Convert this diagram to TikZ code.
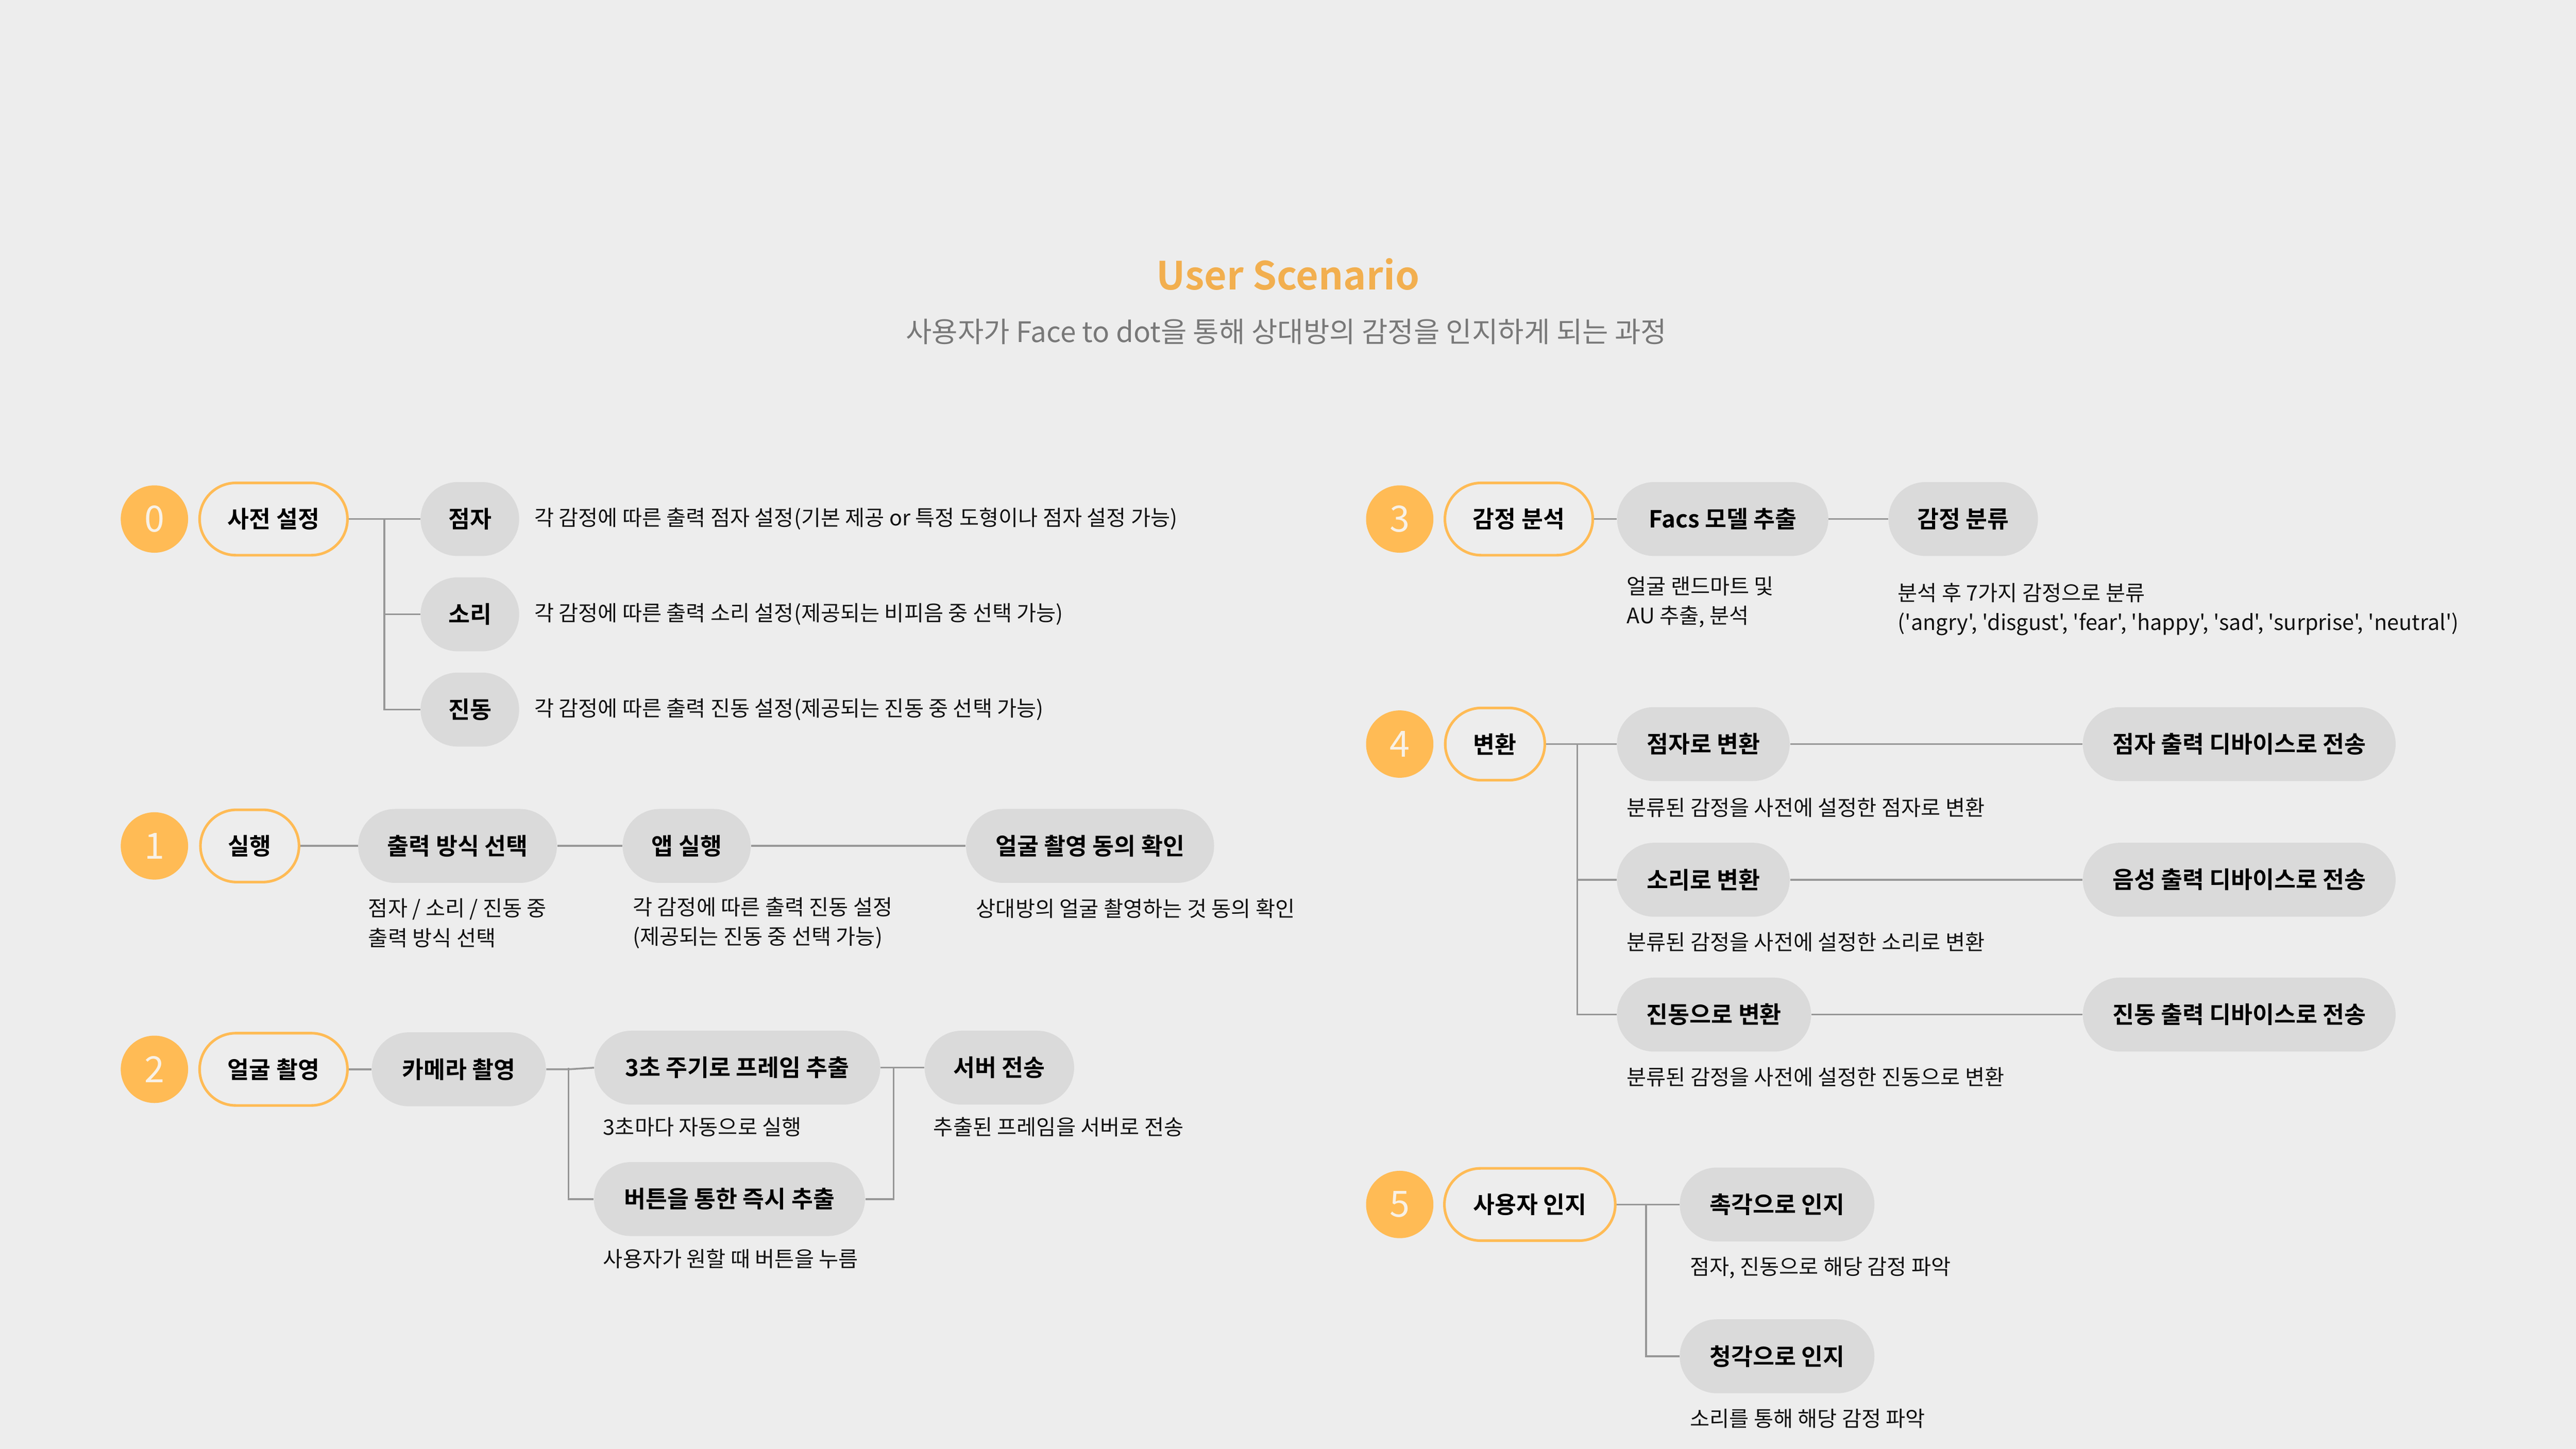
\documentclass[tikz,border=0pt]{standalone}
\usepackage{fontspec}
\setmainfont{Noto Sans CJK KR}[BoldFont={Noto Sans CJK KR Bold}]
\newfontfamily\qfont{Noto Sans CJK KR}
\usetikzlibrary{shapes.misc}
\definecolor{bg}{HTML}{EDEDED}
\definecolor{pillgray}{HTML}{DADADA}
\definecolor{orng}{HTML}{FFBB55}
\definecolor{titleor}{HTML}{F2AF4F}
\definecolor{lgray}{HTML}{979797}
\definecolor{subgray}{HTML}{787878}
\definecolor{numcol}{HTML}{F8F1E6}
\definecolor{txt}{HTML}{111111}
\tikzset{
  stepnum/.style={circle, fill=orng, minimum size=41pt, inner sep=0pt, text=numcol, font=\fontsize{22}{22}\selectfont},
  stagebox/.style={rounded rectangle, draw=orng, line width=1.6pt, fill=bg, minimum height=44pt, inner sep=0pt, text=black, font=\fontsize{14.3}{16}\selectfont\bfseries},
  itembox/.style={rounded rectangle, fill=pillgray, minimum height=45pt, inner sep=0pt, text=black, font=\fontsize{14.3}{16}\selectfont\bfseries},
  desc/.style={anchor=west, inner sep=0pt, text=txt, align=left, font=\fontsize{13}{18}\selectfont},
  conn/.style={draw=lgray, line width=1.1pt},
}
\begin{document}
\begin{tikzpicture}[x=1pt,y=-1pt]
\fill[bg] (0,0) rectangle (1568,882);
\useasboundingbox (0,0) rectangle (1568,882);

% title
\node[text=titleor, font=\fontsize{23.6}{26}\selectfont\bfseries] (title) at (784,167) {User Scenario};
\node[text=subgray, font=\fontsize{17.2}{20}\selectfont] (subtitle) at (783,202) {사용자가 Face to dot을 통해 상대방의 감정을 인지하게 되는 과정};

% ---------- step 0
\node[stepnum] (n0) at (94,316) {0};
\node[stagebox, minimum width=90pt] (s0) at (166.5,316) {사전 설정};
\node[itembox, minimum width=60pt] (s0a) at (286,316) {점자};
\node[itembox, minimum width=60pt] (s0b) at (286,374) {소리};
\node[itembox, minimum width=60pt] (s0c) at (286,432) {진동};
\node[desc] (d0a) at (325,316) {각 감정에 따른 출력 점자 설정(기본 제공 or 특정 도형이나 점자 설정 가능)};
\node[desc] (d0b) at (325,374) {각 감정에 따른 출력 소리 설정(제공되는 비피음 중 선택 가능)};
\node[desc] (d0c) at (325,432) {각 감정에 따른 출력 진동 설정(제공되는 진동 중 선택 가능)};
\coordinate (j0) at (234,316);
\draw[conn] (s0.east) -- (s0a.west);
\draw[conn] (j0) |- (s0b.west);
\draw[conn] (j0) |- (s0c.west);

% ---------- step 1
\node[stepnum] (n1) at (94,515) {1};
\node[stagebox, minimum width=60pt] (s1) at (152,515) {실행};
\node[itembox, minimum width=121pt] (s1a) at (278.5,515) {출력 방식 선택};
\node[itembox, minimum width=78pt] (s1b) at (418,515) {앱 실행};
\node[itembox, minimum width=151pt] (s1c) at (663.5,515) {얼굴 촬영 동의 확인};
\node[desc] (d1a) at (224,562) {점자 / 소리 / 진동 중\\출력 방식 선택};
\node[desc] (d1b) at (385,562) {각 감정에 따른 출력 진동 설정\\(제공되는 진동 중 선택 가능)};
\node[desc] (d1c) at (594,553) {상대방의 얼굴 촬영하는 것 동의 확인};
\draw[conn] (s1.east) -- (s1a.west);
\draw[conn] (s1a.east) -- (s1b.west);
\draw[conn] (s1b.east) -- (s1c.west);

% ---------- step 2
\node[stepnum] (n2) at (94,651) {2};
\node[stagebox, minimum width=90pt] (s2) at (166.5,651) {얼굴 촬영};
\node[itembox, minimum width=106pt] (s2a) at (279.3,651) {카메라 촬영};
\node[itembox, minimum width=174pt] (s2b) at (448.8,650) {3초 주기로 프레임 추출};
\node[itembox, minimum width=165pt] (s2c) at (444,730) {버튼을 통한 즉시 추출};
\node[itembox, minimum width=91pt] (s2d) at (608.3,650) {서버 전송};
\node[desc] (d2b) at (367,686) {3초마다 자동으로 실행};
\node[desc] (d2c) at (367,766.5) {사용자가 원할 때 버튼을 누름};
\node[desc] (d2d) at (568,686) {추출된 프레임을 서버로 전송};
\coordinate (j2a) at (346,650);
\coordinate (j2b) at (544,650);
\draw[conn] (s2.east) -- (s2a.west);
\draw[conn] (s2a.east) -- (s2a.east -| j2a) -- (s2b.west);
\draw[conn] (j2a) |- (s2c.west);
\draw[conn] (s2b.east) -- (s2d.west);
\draw[conn] (s2c.east) -| (j2b);

% ---------- step 3
\node[stepnum] (n3) at (852,316) {3};
\node[stagebox, minimum width=90pt] (s3) at (924.5,316) {감정 분석};
\node[itembox, minimum width=128.6pt] (s3a) at (1048.6,316) {Facs 모델 추출};
\node[itembox, minimum width=91pt] (s3b) at (1195,316) {감정 분류};
\node[desc] (d3a) at (990,366.5) {얼굴 랜드마트 및\\AU 추출, 분석};
\node[desc] (d3b) at (1155,371) {분석 후 7가지 감정으로 분류\\{\qfont('angry', 'disgust', 'fear', 'happy', 'sad', 'surprise', 'neutral')}};
\draw[conn] (s3.east) -- (s3a.west);
\draw[conn] (s3a.east) -- (s3b.west);

% ---------- step 4
\node[stepnum] (n4) at (852,453) {4};
\node[stagebox, minimum width=60.6pt] (s4) at (910,453) {변환};
\node[itembox, minimum width=105.2pt] (s4a) at (1036.8,453) {점자로 변환};
\node[itembox, minimum width=105.2pt] (s4b) at (1036.8,535.6) {소리로 변환};
\node[itembox, minimum width=118.2pt] (s4c) at (1043.3,617.7) {진동으로 변환};
\node[itembox, minimum width=190.4pt] (s4d) at (1363,453) {점자 출력 디바이스로 전송};
\node[itembox, minimum width=190.4pt] (s4e) at (1363,535.6) {음성 출력 디바이스로 전송};
\node[itembox, minimum width=190.4pt] (s4f) at (1363,617.7) {진동 출력 디바이스로 전송};
\node[desc] (d4a) at (990,491.7) {분류된 감정을 사전에 설정한 점자로 변환};
\node[desc] (d4b) at (990,573.4) {분류된 감정을 사전에 설정한 소리로 변환};
\node[desc] (d4c) at (990,655.6) {분류된 감정을 사전에 설정한 진동으로 변환};
\coordinate (j4) at (960,453);
\draw[conn] (s4.east) -- (s4a.west);
\draw[conn] (j4) |- (s4b.west);
\draw[conn] (j4) |- (s4c.west);
\draw[conn] (s4a.east) -- (s4d.west);
\draw[conn] (s4b.east) -- (s4e.west);
\draw[conn] (s4c.east) -- (s4f.west);

% ---------- step 5
\node[stepnum] (n5) at (852,733.3) {5};
\node[stagebox, minimum width=104pt] (s5) at (931.2,733.3) {사용자 인지};
\node[itembox, minimum width=118.5pt] (s5a) at (1081.7,733.3) {촉각으로 인지};
\node[itembox, minimum width=118.5pt] (s5b) at (1081.7,825.7) {청각으로 인지};
\node[desc] (d5a) at (1028.5,771.8) {점자, 진동으로 해당 감정 파악};
\node[desc] (d5b) at (1028.5,863.7) {소리를 통해 해당 감정 파악};
\coordinate (j5) at (1002,733.3);
\draw[conn] (s5.east) -- (s5a.west);
\draw[conn] (j5) |- (s5b.west);
\end{tikzpicture}
\end{document}
